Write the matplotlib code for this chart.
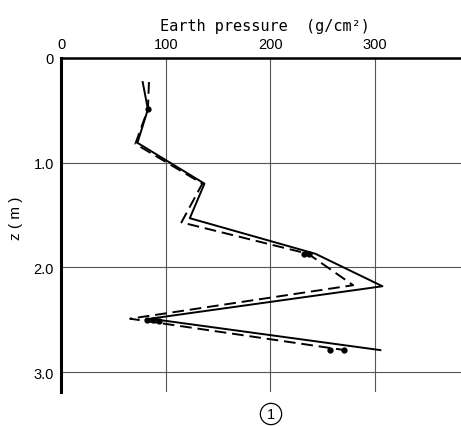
import matplotlib.pyplot as plt

# 土圧分布（実線・破線）
solid_p = [78, 83, 73, 137, 123, 243, 307, 85, 305]
solid_z = [0.23, 0.49, 0.81, 1.20, 1.53, 1.87, 2.18, 2.49, 2.79]
dash_p = [84, 83, 71, 135, 115, 236, 279, 66, 271]
dash_z = [0.23, 0.49, 0.82, 1.20, 1.57, 1.87, 2.17, 2.49, 2.79]

# 測定点
dot_p = [83, 232, 237, 82, 88, 94, 257, 270]
dot_z = [0.49, 1.87, 1.87, 2.50, 2.50, 2.51, 2.79, 2.79]

xticks = [0, 100, 200, 300]
yticks = [0, 1.0, 2.0, 3.0]
ytick_labels = ["0", "1.0", "2.0", "3.0"]

plt.rcParams["font.family"] = ["Liberation Sans", "DejaVu Sans"]

fig = plt.figure(figsize=(4.61, 4.27), dpi=100)
ax = fig.add_axes([61 / 461, 34 / 427, 400 / 461, 334 / 427])

ax.plot(solid_p, solid_z, color="black", linewidth=1.4)
ax.plot(dash_p, dash_z, color="black", linewidth=1.4, linestyle=(0, (6, 3)))
ax.plot(dot_p, dot_z, "o", color="black", markersize=3.5)

ax.set_xlim(0, 382)
ax.set_ylim(3.19, 0)

ax.xaxis.tick_top()
ax.xaxis.set_label_position("top")
ax.set_xticks(xticks)
ax.set_yticks(yticks)
ax.set_yticklabels(ytick_labels)
ax.tick_params(length=0, labelsize=10.5, pad=5)
ax.grid(True, color="#555555", linewidth=0.8)
ax.set_axisbelow(True)

ax.spines["right"].set_visible(False)
ax.spines["bottom"].set_visible(False)
ax.spines["left"].set_linewidth(2.2)
ax.spines["top"].set_linewidth(1.8)

# 上側のラベル
ax.set_xlabel("Earth pressure  (g/cm²)", fontsize=11,
              family=["DejaVu Sans Mono", "DejaVu Sans"])
ax.xaxis.set_label_coords(0.51, 1.085)
ax.set_ylabel("z ( m )", fontsize=11)
ax.yaxis.set_label_coords(-0.095, 0.524)

fig.text(271 / 461, 1 - 415 / 427, "1", ha="center", va="center", fontsize=10.5,
         bbox=dict(boxstyle="circle,pad=0.25", fc="white", ec="black", lw=0.9))

fig.savefig("out.png", dpi=100)
